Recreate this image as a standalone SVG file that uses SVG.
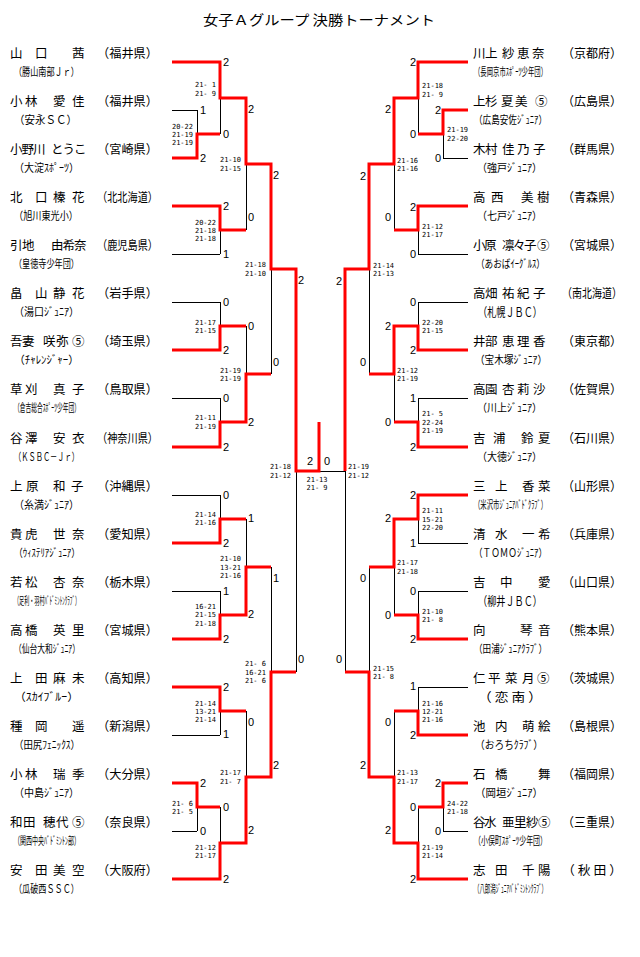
<svg xmlns="http://www.w3.org/2000/svg" width="640" height="957" viewBox="0 0 640 957">
<style>
.k{stroke:#000;stroke-width:1;fill:none;shape-rendering:crispEdges}
.r{stroke:#f00;stroke-width:3;fill:none;stroke-linejoin:miter;stroke-linecap:butt}
.n{font-family:"Noto Sans CJK JP","Noto Sans CJK SC",sans-serif;font-size:12.5px;fill:#000}
.c{font-family:"Noto Sans CJK JP","Noto Sans CJK SC",sans-serif;font-size:11px;fill:#000}
.t{font-family:"Noto Sans CJK JP","Noto Sans CJK SC",sans-serif;font-size:13.5px;fill:#000}
.s{font-family:"Liberation Sans",Arial,sans-serif;font-size:11px;fill:#000}
.g{font-family:"DejaVu Sans Mono","Liberation Mono",monospace;font-size:7px;fill:#000}
.e{text-anchor:end}
.m{text-anchor:middle}
</style>
<rect width="640" height="957" fill="#fff"/>
<text id="title" class="t" x="203" y="24.5" textLength="232" lengthAdjust="spacingAndGlyphs">女子Ａグループ 決勝トーナメント</text>

<g id="connectors">
<path class="k" d="M172 62H220M172 110H197M172 158H197M197 110V158M197 134H220M220 62V134M220 98H246M172 206H220M172 254H220M220 206V254M220 230H246M246 98V230M246 164H271M172 302H220M172 350H220M220 302V350M220 326H246M172 398H220M172 447H220M220 398V447M220 422H246M246 326V422M246 374H271M271 164V374M271 269H296M172 495H220M172 543H220M220 495V543M220 519H246M172 591H220M172 639H220M220 591V639M220 615H246M246 519V615M246 567H271M172 687H220M172 735H220M220 687V735M220 711H246M172 783H197M172 831H197M197 783V831M197 807H220M172 879H220M220 807V879M220 843H246M246 711V843M246 777H271M271 567V777M271 672H296M296 269V672M296 471H345M319 471V422"/>
<path class="k" d="M468 62H418M468 110H443M468 158H443M443 110V158M443 134H418M418 62V134M418 98H394M468 206H418M468 254H418M418 206V254M418 230H394M394 98V230M394 164H369M468 302H418M468 350H418M418 302V350M418 326H394M468 398H418M468 447H418M418 398V447M418 422H394M394 326V422M394 374H369M369 164V374M369 269H345M468 495H418M468 543H418M418 495V543M418 519H394M468 591H418M468 639H418M418 591V639M418 615H394M394 519V615M394 567H369M468 687H418M468 735H418M418 687V735M418 711H394M468 783H443M468 831H443M443 783V831M443 807H418M468 879H418M418 807V879M418 843H394M394 711V843M394 777H369M369 567V777M369 672H345M345 269V672"/>
<path class="r" d="M172 62H220V98H246V164H271V269H296V471H319V422"/>
<path class="r" d="M172 158H197V134H220"/>
<path class="r" d="M172 206H220V230H246"/>
<path class="r" d="M172 350H220V326H246"/>
<path class="r" d="M172 447H220V422H246V374H271"/>
<path class="r" d="M172 543H220V519H246"/>
<path class="r" d="M172 639H220V615H246V567H271"/>
<path class="r" d="M172 687H220V711H246"/>
<path class="r" d="M172 879H220V843H246V777H271V672H296"/>
<path class="r" d="M172 783H197V807H220"/>
<path class="r" d="M468 62H418V98H394V164H369V269H345V471"/>
<path class="r" d="M468 110H443V134H418"/>
<path class="r" d="M468 206H418V230H394"/>
<path class="r" d="M468 350H418V326H394V374H369"/>
<path class="r" d="M468 447H418V422H394"/>
<path class="r" d="M468 495H418V519H394V567H369"/>
<path class="r" d="M468 639H418V615H394"/>
<path class="r" d="M468 735H418V711H394"/>
<path class="r" d="M468 879H418V843H394V777H369V672H345"/>
<path class="r" d="M468 783H443V807H418"/>
</g>

<g id="match-scores">
<g class="s">
<text x="223" y="66">2</text><text x="200" y="114">1</text><text x="200" y="162">2</text><text x="223" y="138">0</text><text x="223" y="210">2</text><text x="223" y="258">1</text><text x="223" y="306">0</text><text x="223" y="354">2</text><text x="223" y="402">0</text><text x="223" y="451">2</text><text x="223" y="499">0</text><text x="223" y="547">2</text><text x="223" y="595">1</text><text x="223" y="643">2</text><text x="223" y="691">2</text><text x="223" y="738">1</text><text x="200" y="787">2</text><text x="200" y="835">0</text><text x="223" y="811">0</text><text x="223" y="883">2</text>
<text x="248" y="113">2</text><text x="248" y="221">0</text><text x="248" y="330">0</text><text x="248" y="426">2</text><text x="248" y="522">1</text><text x="248" y="618">2</text><text x="248" y="726">0</text><text x="248" y="834">2</text>
<text x="273" y="179">2</text><text x="273" y="366">0</text><text x="273" y="582">1</text><text x="273" y="769">2</text>
<text x="298" y="284">2</text><text x="298" y="663">0</text>
<text x="307" y="465">2</text><text x="324" y="465">0</text>
</g>
<g class="s e">
<text x="416" y="66">2</text><text x="441" y="114">2</text><text x="441" y="162">0</text><text x="416" y="138">0</text><text x="416" y="211">2</text><text x="416" y="258">0</text><text x="416" y="306">0</text><text x="416" y="354">2</text><text x="416" y="402">1</text><text x="416" y="451">2</text><text x="416" y="499">2</text><text x="416" y="547">1</text><text x="416" y="595">0</text><text x="416" y="643">2</text><text x="416" y="690">1</text><text x="416" y="739">2</text><text x="441" y="787">2</text><text x="441" y="835">0</text><text x="416" y="811">0</text><text x="416" y="883">2</text>
<text x="391" y="113">2</text><text x="391" y="221">0</text><text x="391" y="330">2</text><text x="391" y="426">0</text><text x="391" y="522">2</text><text x="391" y="619">0</text><text x="391" y="726">0</text><text x="391" y="834">2</text>
<text x="366" y="180">2</text><text x="366" y="366">0</text><text x="366" y="582">0</text><text x="366" y="769">2</text>
<text x="342" y="285">2</text><text x="342" y="663">0</text>
</g>
</g>

<g id="game-scores">
<g class="g e">
<text><tspan x="216" y="86.5">21-&#160;1</tspan><tspan x="216" y="95.5">21-&#160;9</tspan></text>
<text><tspan x="193" y="128.5">20-22</tspan><tspan x="193" y="136.5">21-19</tspan><tspan x="193" y="144.5">21-19</tspan></text>
<text><tspan x="241" y="161.5">21-10</tspan><tspan x="241" y="170.5">21-15</tspan></text>
<text><tspan x="216" y="224.5">20-22</tspan><tspan x="216" y="232.5">21-18</tspan><tspan x="216" y="240.5">21-18</tspan></text>
<text><tspan x="266" y="266.5">21-18</tspan><tspan x="266" y="275.5">21-10</tspan></text>
<text><tspan x="216" y="324.5">21-17</tspan><tspan x="216" y="332.5">21-15</tspan></text>
<text><tspan x="241" y="372.5">21-19</tspan><tspan x="241" y="380.5">21-19</tspan></text>
<text><tspan x="216" y="419.5">21-11</tspan><tspan x="216" y="428.5">21-19</tspan></text>
<text><tspan x="291" y="468.5">21-18</tspan><tspan x="291" y="477.5">21-12</tspan></text>
<text><tspan x="216" y="516.5">21-14</tspan><tspan x="216" y="524.5">21-16</tspan></text>
<text><tspan x="241" y="560.5">21-10</tspan><tspan x="241" y="569.5">13-21</tspan><tspan x="241" y="577.5">21-16</tspan></text>
<text><tspan x="216" y="608.5">16-21</tspan><tspan x="216" y="616.5">21-15</tspan><tspan x="216" y="625.5">21-18</tspan></text>
<text><tspan x="266" y="665.5">21-&#160;6</tspan><tspan x="266" y="674.5">16-21</tspan><tspan x="266" y="682.5">21-&#160;6</tspan></text>
<text><tspan x="216" y="705.5">21-14</tspan><tspan x="216" y="713.5">13-21</tspan><tspan x="216" y="721.5">21-14</tspan></text>
<text><tspan x="241" y="774.5">21-17</tspan><tspan x="241" y="783.5">21-&#160;7</tspan></text>
<text><tspan x="193" y="805.5">21-&#160;6</tspan><tspan x="193" y="813.5">21-&#160;5</tspan></text>
<text><tspan x="216" y="849.5">21-12</tspan><tspan x="216" y="857.5">21-17</tspan></text>
</g>
<g class="g m">
<text><tspan x="317" y="481.5">21-13</tspan><tspan x="317" y="489.5">21-&#160;9</tspan></text>
</g>
<g class="g">
<text><tspan x="422" y="87.5">21-18</tspan><tspan x="422" y="96.5">21-&#160;9</tspan></text>
<text><tspan x="447" y="131.5">21-19</tspan><tspan x="447" y="140.5">22-20</tspan></text>
<text><tspan x="397" y="162.5">21-16</tspan><tspan x="397" y="170.5">21-16</tspan></text>
<text><tspan x="422" y="228.5">21-12</tspan><tspan x="422" y="236.5">21-17</tspan></text>
<text><tspan x="373" y="267.5">21-14</tspan><tspan x="373" y="275.5">21-13</tspan></text>
<text><tspan x="422" y="324.5">22-20</tspan><tspan x="422" y="332.5">21-15</tspan></text>
<text><tspan x="397" y="372.5">21-12</tspan><tspan x="397" y="380.5">21-19</tspan></text>
<text><tspan x="422" y="415.5">21-&#160;5</tspan><tspan x="422" y="424.5">22-24</tspan><tspan x="422" y="432.5">21-19</tspan></text>
<text><tspan x="348" y="468.5">21-19</tspan><tspan x="348" y="477.5">21-12</tspan></text>
<text><tspan x="422" y="512.5">21-11</tspan><tspan x="422" y="521.5">15-21</tspan><tspan x="422" y="529.5">22-20</tspan></text>
<text><tspan x="397" y="564.5">21-17</tspan><tspan x="397" y="573.5">21-18</tspan></text>
<text><tspan x="422" y="613.5">21-10</tspan><tspan x="422" y="621.5">21-&#160;8</tspan></text>
<text><tspan x="373" y="670.5">21-15</tspan><tspan x="373" y="678.5">21-&#160;8</tspan></text>
<text><tspan x="422" y="705.5">21-16</tspan><tspan x="422" y="713.5">12-21</tspan><tspan x="422" y="721.5">21-16</tspan></text>
<text><tspan x="397" y="774.5">21-13</tspan><tspan x="397" y="783.5">21-17</tspan></text>
<text><tspan x="447" y="805.5">24-22</tspan><tspan x="447" y="813.5">21-18</tspan></text>
<text><tspan x="422" y="849.5">21-19</tspan><tspan x="422" y="857.5">21-14</tspan></text>
</g>
</g>

<g id="L00"><text class="n" x="10 35 60 72" y="57.5">山口 茜</text><text class="n" x="97" y="57.5" textLength="61" lengthAdjust="spacingAndGlyphs">（福井県）</text><text class="c" x="14" y="76" textLength="65" lengthAdjust="spacingAndGlyphs">（勝山南部Ｊｒ）</text></g>
<g id="L01"><text class="n" x="10 25 45 53 72" y="105.5">小林 愛佳</text><text class="n" x="97" y="105.5" textLength="61" lengthAdjust="spacingAndGlyphs">（福井県）</text><text class="c" x="14" y="124" textLength="63" lengthAdjust="spacingAndGlyphs">（安永ＳＣ）</text></g>
<g id="L02"><text class="n" x="10 21.5 33 45 51 62.5 74" y="153.5">小野川 とうこ</text><text class="n" x="97" y="153.5" textLength="61" lengthAdjust="spacingAndGlyphs">（宮崎県）</text><text class="c" x="14" y="172" textLength="65" lengthAdjust="spacingAndGlyphs">（大淀ｽﾎﾟｰﾂ）</text></g>
<g id="L03"><text class="n" x="10 35 47 53 72" y="201.5">北口 榛花</text><text class="n" x="97" y="201.5" textLength="61" lengthAdjust="spacingAndGlyphs">（北北海道）</text><text class="c" x="14" y="220" textLength="64" lengthAdjust="spacingAndGlyphs">（旭川東光小）</text></g>
<g id="L04"><text class="n" x="10 22 45 51 62.5 74" y="249.5">引地 由希奈</text><text class="n" x="97" y="249.5" textLength="61" lengthAdjust="spacingAndGlyphs">（鹿児島県）</text><text class="c" x="14" y="268" textLength="65" lengthAdjust="spacingAndGlyphs">（皇徳寺少年団）</text></g>
<g id="L05"><text class="n" x="10 35 47 53 72" y="297.5">畠山 静花</text><text class="n" x="97" y="297.5" textLength="61" lengthAdjust="spacingAndGlyphs">（岩手県）</text><text class="c" x="14" y="316" textLength="65" lengthAdjust="spacingAndGlyphs">（湯口ｼﾞｭﾆｱ）</text></g>
<g id="L06"><text class="n" x="10 22 38 43 56 72" y="345.5">吾妻 咲弥⑤</text><text class="n" x="97" y="345.5" textLength="61" lengthAdjust="spacingAndGlyphs">（埼玉県）</text><text class="c" x="14" y="364" textLength="65" lengthAdjust="spacingAndGlyphs">（ﾁｬﾚﾝｼﾞｬｰ）</text></g>
<g id="L07"><text class="n" x="10 25 45 53 72" y="393.5">草刈 真子</text><text class="n" x="97" y="393.5" textLength="61" lengthAdjust="spacingAndGlyphs">（鳥取県）</text><text class="c" x="14" y="412" textLength="66" lengthAdjust="spacingAndGlyphs">（倉吉総合ｽﾎﾟｰﾂ少年団）</text></g>
<g id="L08"><text class="n" x="10 25 45 53 72" y="442.5">谷澤 安衣</text><text class="n" x="97" y="442.5" textLength="61" lengthAdjust="spacingAndGlyphs">（神奈川県）</text><text class="c" x="14" y="461" textLength="65" lengthAdjust="spacingAndGlyphs">（ＫＳＢＣ－Ｊｒ）</text></g>
<g id="L09"><text class="n" x="10 26 45 53 71" y="490.5">上原 和子</text><text class="n" x="97" y="490.5" textLength="61" lengthAdjust="spacingAndGlyphs">（沖縄県）</text><text class="c" x="14" y="509" textLength="65" lengthAdjust="spacingAndGlyphs">（糸満ｼﾞｭﾆｱ）</text></g>
<g id="L10"><text class="n" x="10 25 45 53 72" y="538.5">貴虎 世奈</text><text class="n" x="97" y="538.5" textLength="61" lengthAdjust="spacingAndGlyphs">（愛知県）</text><text class="c" x="14" y="557" textLength="66" lengthAdjust="spacingAndGlyphs">（ｳｨｽﾃﾘｱｼﾞｭﾆｱ）</text></g>
<g id="L11"><text class="n" x="10 25 45 53 72" y="586.5">若松 杏奈</text><text class="n" x="97" y="586.5" textLength="61" lengthAdjust="spacingAndGlyphs">（栃木県）</text><text class="c" x="14" y="605" textLength="66" lengthAdjust="spacingAndGlyphs">（足利・羽村ﾊﾞﾄﾞﾐﾝﾄﾝｸﾗﾌﾞ）</text></g>
<g id="L12"><text class="n" x="10 25 45 53 72" y="634.5">高橋 英里</text><text class="n" x="97" y="634.5" textLength="61" lengthAdjust="spacingAndGlyphs">（宮城県）</text><text class="c" x="14" y="653" textLength="66" lengthAdjust="spacingAndGlyphs">（仙台大和ｼﾞｭﾆｱ）</text></g>
<g id="L13"><text class="n" x="10 35 47 53 72" y="682.5">上田 麻未</text><text class="n" x="97" y="682.5" textLength="61" lengthAdjust="spacingAndGlyphs">（高知県）</text><text class="c" x="14" y="701" textLength="65" lengthAdjust="spacingAndGlyphs">（ｽｶｲﾌﾞﾙｰ）</text></g>
<g id="L14"><text class="n" x="10 35 60 72" y="730.5">種岡 遥</text><text class="n" x="97" y="730.5" textLength="61" lengthAdjust="spacingAndGlyphs">（新潟県）</text><text class="c" x="14" y="749" textLength="66" lengthAdjust="spacingAndGlyphs">（田尻ﾌｪﾆｯｸｽ）</text></g>
<g id="L15"><text class="n" x="10 25 45 53 72" y="778.5">小林 瑞季</text><text class="n" x="97" y="778.5" textLength="61" lengthAdjust="spacingAndGlyphs">（大分県）</text><text class="c" x="14" y="797" textLength="65" lengthAdjust="spacingAndGlyphs">（中島ｼﾞｭﾆｱ）</text></g>
<g id="L16"><text class="n" x="10 23 38 43 56 72" y="826.5">和田 穂代⑤</text><text class="n" x="97" y="826.5" textLength="61" lengthAdjust="spacingAndGlyphs">（奈良県）</text><text class="c" x="14" y="845" textLength="66" lengthAdjust="spacingAndGlyphs">（関西中央ﾊﾞﾄﾞﾐﾝﾄﾝ部）</text></g>
<g id="L17"><text class="n" x="10 35 47 53 72" y="874.5">安田 美空</text><text class="n" x="97" y="874.5" textLength="61" lengthAdjust="spacingAndGlyphs">（大阪府）</text><text class="c" x="14" y="893" textLength="65" lengthAdjust="spacingAndGlyphs">（瓜破西ＳＳＣ）</text></g>

<g id="R00"><text class="n" x="473 485 497 502 517 532" y="57.5">川上 紗恵奈</text><text class="n" x="562" y="57.5" textLength="60" lengthAdjust="spacingAndGlyphs">（京都府）</text><text class="c" x="474" y="76" textLength="73" lengthAdjust="spacingAndGlyphs">（長岡京市ｽﾎﾟｰﾂ少年団）</text></g>
<g id="R01"><text class="n" x="473 485 497 501 515 535" y="105.5">上杉 夏美⑤</text><text class="n" x="562" y="105.5" textLength="60" lengthAdjust="spacingAndGlyphs">（広島県）</text><text class="c" x="474" y="124" textLength="73" lengthAdjust="spacingAndGlyphs">（広島安佐ｼﾞｭﾆｱ）</text></g>
<g id="R02"><text class="n" x="473 485 497 502 517 533" y="153.5">木村 佳乃子</text><text class="n" x="562" y="153.5" textLength="60" lengthAdjust="spacingAndGlyphs">（群馬県）</text><text class="c" x="477" y="172" textLength="65" lengthAdjust="spacingAndGlyphs">（強戸ｼﾞｭﾆｱ）</text></g>
<g id="R03"><text class="n" x="473 491 505 521 537" y="201.5">高西 美樹</text><text class="n" x="562" y="201.5" textLength="60" lengthAdjust="spacingAndGlyphs">（青森県）</text><text class="c" x="477" y="220" textLength="65" lengthAdjust="spacingAndGlyphs">（七戸ｼﾞｭﾆｱ）</text></g>
<g id="R04"><text class="n" x="473 484 497 502 513 524 537" y="249.5">小原 凛々子⑤</text><text class="n" x="562" y="249.5" textLength="60" lengthAdjust="spacingAndGlyphs">（宮城県）</text><text class="c" x="476" y="268" textLength="69" lengthAdjust="spacingAndGlyphs">（あおばｲｰｸﾞﾙｽ）</text></g>
<g id="R05"><text class="n" x="473 485 497 502 517 533" y="297.5">高畑 祐紀子</text><text class="n" x="562" y="297.5" textLength="60" lengthAdjust="spacingAndGlyphs">（南北海道）</text><text class="n" x="478" y="316.5" textLength="64" lengthAdjust="spacingAndGlyphs">（札幌ＪＢＣ）</text></g>
<g id="R06"><text class="n" x="473 485 497 502 517 533" y="345.5">井部 恵理香</text><text class="n" x="562" y="345.5" textLength="60" lengthAdjust="spacingAndGlyphs">（東京都）</text><text class="c" x="475" y="364" textLength="72" lengthAdjust="spacingAndGlyphs">（宝木塚ｼﾞｭﾆｱ）</text></g>
<g id="R07"><text class="n" x="473 485 497 502 517 533" y="393.5">高園 杏莉沙</text><text class="n" x="562" y="393.5" textLength="60" lengthAdjust="spacingAndGlyphs">（佐賀県）</text><text class="c" x="477" y="412" textLength="65" lengthAdjust="spacingAndGlyphs">（川上ｼﾞｭﾆｱ）</text></g>
<g id="R08"><text class="n" x="473 493 510 521 538" y="442.5">吉浦 鈴夏</text><text class="n" x="562" y="442.5" textLength="60" lengthAdjust="spacingAndGlyphs">（石川県）</text><text class="c" x="477" y="461" textLength="65" lengthAdjust="spacingAndGlyphs">（大徳ｼﾞｭﾆｱ）</text></g>
<g id="R09"><text class="n" x="473 495 510 522 538" y="490.5">三上 香菜</text><text class="n" x="562" y="490.5" textLength="60" lengthAdjust="spacingAndGlyphs">（山形県）</text><text class="c" x="474" y="509" textLength="73" lengthAdjust="spacingAndGlyphs">（米沢市ｼﾞｭﾆｱﾊﾞﾄﾞｸﾗﾌﾞ）</text></g>
<g id="R10"><text class="n" x="473 495 510 522 538" y="538.5">清水 一希</text><text class="n" x="562" y="538.5" textLength="60" lengthAdjust="spacingAndGlyphs">（兵庫県）</text><text class="c" x="474" y="557" textLength="73" lengthAdjust="spacingAndGlyphs">（ＴＯＭＯｼﾞｭﾆｱ）</text></g>
<g id="R11"><text class="n" x="473 500 520 538" y="586.5">吉中 愛</text><text class="n" x="562" y="586.5" textLength="60" lengthAdjust="spacingAndGlyphs">（山口県）</text><text class="n" x="478" y="605.5" textLength="64" lengthAdjust="spacingAndGlyphs">（柳井ＪＢＣ）</text></g>
<g id="R12"><text class="n" x="473 500 520 538" y="634.5">向 琴音</text><text class="n" x="562" y="634.5" textLength="60" lengthAdjust="spacingAndGlyphs">（熊本県）</text><text class="c" x="474" y="653" textLength="73" lengthAdjust="spacingAndGlyphs">（田浦ｼﾞｭﾆｱｸﾗﾌﾞ）</text></g>
<g id="R13"><text class="n" x="473 488 500 505 522 537" y="682.5">仁平 菜月⑤</text><text class="n" x="562" y="682.5" textLength="60" lengthAdjust="spacingAndGlyphs">（茨城県）</text><text class="n" x="478" y="701.5" textLength="64" lengthAdjust="spacingAndGlyphs">（ 恋 南 ）</text></g>
<g id="R14"><text class="n" x="473 495 510 522 538" y="730.5">池内 萌絵</text><text class="n" x="562" y="730.5" textLength="60" lengthAdjust="spacingAndGlyphs">（島根県）</text><text class="c" x="475" y="749" textLength="68" lengthAdjust="spacingAndGlyphs">（おろちｸﾗﾌﾞ）</text></g>
<g id="R15"><text class="n" x="473 495 520 538" y="778.5">石橋 舞</text><text class="n" x="562" y="778.5" textLength="60" lengthAdjust="spacingAndGlyphs">（福岡県）</text><text class="c" x="475" y="797" textLength="68" lengthAdjust="spacingAndGlyphs">（岡垣ｼﾞｭﾆｱ）</text></g>
<g id="R16"><text class="n" x="473 484 497 502 514 526 538" y="826.5">谷水 亜里紗⑤</text><text class="n" x="562" y="826.5" textLength="60" lengthAdjust="spacingAndGlyphs">（三重県）</text><text class="c" x="474" y="845" textLength="73" lengthAdjust="spacingAndGlyphs">（小俣町ｽﾎﾟｰﾂ少年団）</text></g>
<g id="R17"><text class="n" x="473 495 510 522 538" y="874.5">志田 千陽</text><text class="n" x="562" y="874.5" textLength="60" lengthAdjust="spacingAndGlyphs">（ 秋 田 ）</text><text class="c" x="474" y="893" textLength="73" lengthAdjust="spacingAndGlyphs">（八郎潟ｼﾞｭﾆｱﾊﾞﾄﾞﾐﾝﾄﾝｸﾗﾌﾞ）</text></g>
</svg>
